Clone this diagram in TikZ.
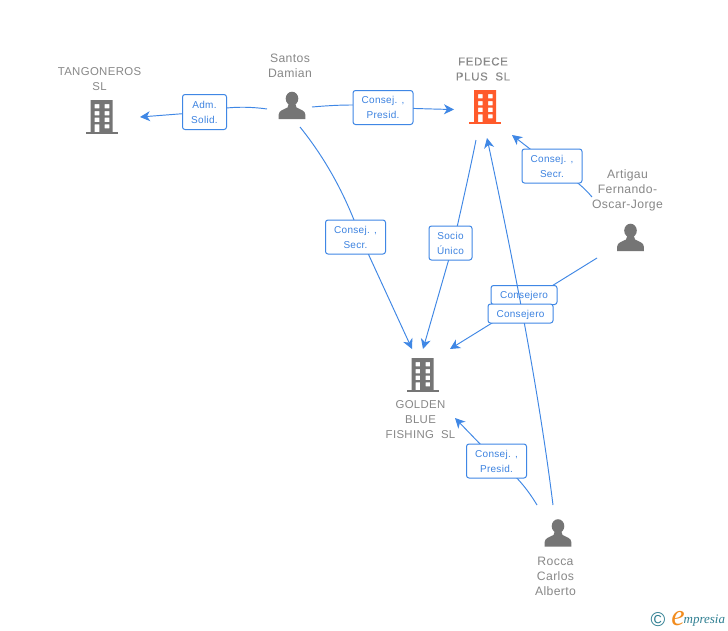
\documentclass[tikz,border=0pt]{standalone}
\usepackage{fontspec}
\setmainfont{Liberation Sans}
\newfontfamily\lblfont[LetterSpace=3]{Liberation Sans}
\newfontfamily\boldlbl[LetterSpace=6,FakeBold=0.3]{Liberation Sans}
\newfontfamily\logofont{Liberation Serif}
\usetikzlibrary{arrows.meta}
\definecolor{edgeblue}{HTML}{3F87E5}
\definecolor{labelblue}{HTML}{3C82E0}
\definecolor{icongrey}{HTML}{757575}
\definecolor{textgrey}{HTML}{888888}
\definecolor{fedorange}{HTML}{FF5A2B}
\definecolor{logoteal}{HTML}{2F7F92}
\definecolor{logoorange}{HTML}{F28C1E}
\pgfdeclarelayer{edges}\pgfdeclarelayer{lowbox}\pgfdeclarelayer{overline}
\pgfsetlayers{edges,lowbox,overline,main}
\tikzset{
  x=1pt,y=-1pt,
  edge/.style={draw=edgeblue,line width=0.95pt},
  arrowed/.style={edge,-{Stealth[length=10pt,width=10pt,inset=3pt]}},
  rolebox/.style={draw=edgeblue,line width=1pt,fill=white,rounded corners=2.5pt,inner sep=0pt,
    text=labelblue,font=\lblfont\fontsize{10}{15}\selectfont,align=center,
    execute at begin node={\rule{0pt}{9.2pt}}},
  entity/.style={text=textgrey,font=\lblfont\fontsize{11.4}{15}\selectfont,align=center,inner sep=0pt},
  personname/.style={text=textgrey,font=\lblfont\fontsize{12.2}{15}\selectfont,align=center,inner sep=0pt},
  strongentity/.style={text=textgrey,font=\boldlbl\fontsize{11.4}{15}\selectfont,align=center,inner sep=0pt},
  pics/building/.style={code={
    \fill[#1,even odd rule]
      (-11,0) rectangle (11,32)
      (-7,4) rectangle (-2.4,8.3) (3,4) rectangle (7.6,8.3)
      (-7,11) rectangle (-2.4,15.3) (3,11) rectangle (7.6,15.3)
      (-7,17.7) rectangle (-2.4,22) (3,17.7) rectangle (7.6,22)
      (-7,24.3) rectangle (-2.4,32) (3,24.3) rectangle (7.6,28.3);
    \fill[#1] (-15.7,31.6) rectangle (16,34);
  }},
  pics/person/.style={code={
    \fill[icongrey] (0,6.6) ellipse (6.3 and 6.9);
    \fill[icongrey] (-13.3,27.2) -- (-13.3,22.5) .. controls (-13.3,18.5) and (-8,17.5) .. (-4.5,15.5)
      -- (-3,11) -- (3,11) -- (4.5,15.5) .. controls (8,17.5) and (13.3,18.5) .. (13.3,22.5)
      -- (13.3,27.2) -- cycle;
  }},
}
\begin{document}
\begin{tikzpicture}
\useasboundingbox (0,0) rectangle (728,630);
\begin{pgfonlayer}{edges}
\fill[white] (0,0) rectangle (728,630);
\end{pgfonlayer}

% icons
\pic at (101.7,100) {building=icongrey};
\pic at (485,90) {building=fedorange};
\pic at (422.5,358) {building=icongrey};
\pic at (292,92) {person};
\pic at (630.5,224) {person};
\pic at (558,519.5) {person};

% entity labels
\node[entity] (tangoneros) at (99.5,79) {TANGONEROS\\SL};
\node[personname] (santos) at (290,66) {Santos\\Damian};
\node[strongentity] (fedece) at (483,69) {FEDECE\\PLUS\ \ SL};
\node[personname] (artigau) at (627.5,190.5) {Artigau\\Fernando-\\Oscar-Jorge};
\node[entity] (golden) at (420.5,419.5) {GOLDEN\\BLUE\\FISHING\ \ SL};
\node[personname] (rocca) at (555.5,576.5) {Rocca\\Carlos\\Alberto};

% role boxes
\node[rolebox,minimum width=44pt,minimum height=35pt] (adm) at (204.5,112) {Adm.\\Solid.};
\node[rolebox,minimum width=60pt,minimum height=34pt] (presA) at (383,107.5) {Consej. ,\\Presid.};
\node[rolebox,minimum width=60pt,minimum height=34pt] (secrA) at (552,166) {Consej. ,\\Secr.};
\node[rolebox,minimum width=60pt,minimum height=34pt] (secrS) at (355.5,237) {Consej. ,\\Secr.};
\node[rolebox,minimum width=43pt,minimum height=34pt] (socio) at (450.5,243) {Socio\\Único};
\node[rolebox,minimum width=60pt,minimum height=34pt] (presR) at (496.5,461) {Consej. ,\\Presid.};
\begin{pgfonlayer}{lowbox}
\node[rolebox,minimum width=66pt,minimum height=19pt] (consA) at (524,295) {Consejero};
\end{pgfonlayer}
\node[rolebox,minimum width=65pt,minimum height=19pt] (consB) at (520.5,313.5) {Consejero};

% connector free ends
\coordinate (tangEnd) at (140,117);
\coordinate (santosW) at (267,109);
\coordinate (santosE) at (312,107);
\coordinate (santosS) at (300,127);
\coordinate (fedW) at (454,109.5);
\coordinate (fedS) at (476,140);
\coordinate (fedSR) at (487,138);
\coordinate (fedSE) at (512,135);
\coordinate (artW) at (592,197);
\coordinate (artS) at (597,258);
\coordinate (goldA) at (412,349);
\coordinate (goldB) at (423,349);
\coordinate (goldC) at (450,349);
\coordinate (goldD) at (455,418);
\coordinate (roccaA) at (537,505);
\coordinate (roccaB) at (553,505);

\begin{pgfonlayer}{edges}
\draw[arrowed] (santosW) .. controls (250,106.5) and (226,106) .. (adm.center) -- (tangEnd);
\draw[arrowed] (santosE) .. controls (340,104.5) and (365,104) .. (presA.center) .. controls (400,108) and (430,109) .. (fedW);
\draw[arrowed] (santosS) .. controls (333,168) and (350,208) .. ([xshift=5pt]secrS.center) -- (goldA);
\draw[arrowed] (fedS) .. controls (470,170) and (462,205) .. ([xshift=3pt]socio.center) -- (goldB);
\draw[arrowed] (artW) .. controls (583,186) and (570,176) .. (secrA.center) -- (fedSE);
\draw[arrowed] (artS) -- (goldC);
\draw[arrowed] (roccaA) .. controls (528,490) and (515,473) .. (presR.center) -- (goldD);
\end{pgfonlayer}
\begin{pgfonlayer}{overline}
\draw[arrowed] (roccaB) .. controls (538,385) and (513,260) .. (fedSR);
\end{pgfonlayer}

% logo
\node[text=logoteal,inner sep=0pt,font=\fontsize{20}{20}\selectfont] (copyr) at (658,619.5) {©};
\node[text=logoorange,inner sep=0pt,anchor=base,font=\logofont\itshape\fontsize{30}{30}\selectfont] (logoe) at (678,625) {e};
\node[text=logoteal,inner sep=0pt,anchor=base west,font=\logofont\itshape\fontsize{13}{14}\selectfont] (logotext) at (683.5,623) {mpresia};
\end{tikzpicture}
\end{document}
